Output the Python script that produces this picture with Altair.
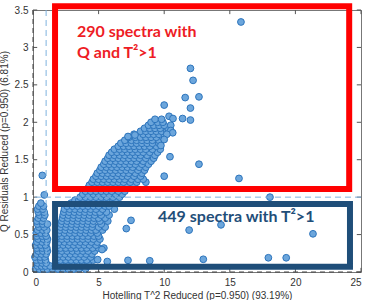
import altair as alt
import pandas as pd

x_ticks = [0, 5, 10, 15, 20, 25]
y_ticks = [0, 0.5, 1, 1.5, 2, 2.5, 3, 3.5]

# dense cloud, read row by row (Q value, list of T^2 values)
cloud_rows = [
    (0.04, [0.2, 0.5, 0.8, 1.1, 1.5, 1.9, 2.3, 2.7, 3.1, 3.5, 4.0]),
    (0.08, [0.35, 0.65, 0.95, 1.3, 1.7, 2.1, 2.5, 2.9, 3.3, 3.7, 4.2]),
    (0.12, [0.35, 0.7, 1.0, 1.8, 2.2, 2.6, 3.0, 3.4, 3.8, 4.2]),
    (0.16, [0.25, 0.6, 0.95, 1.75, 2.1, 2.5, 2.9, 3.3, 3.7, 4.1, 4.6]),
    (0.20, [0.15, 0.55, 0.9, 1.9, 2.3, 2.7, 3.1, 3.5, 3.9, 4.4]),
    (0.24, [0.3, 0.65, 1.0, 1.85, 2.05, 2.45, 2.85, 3.25, 3.65, 4.05, 4.5]),
    (0.28, [0.4, 0.75, 1.1, 1.8, 2.2, 2.6, 3.0, 3.4, 3.8, 4.2, 4.7]),
    (0.32, [0.3, 0.7, 1.05, 1.75, 2.1, 2.5, 2.9, 3.3, 3.7, 4.1, 4.55, 5.0]),
    (0.36, [0.2, 0.6, 0.95, 1.9, 2.3, 2.7, 3.1, 3.5, 3.9, 4.3, 4.8]),
    (0.40, [0.3, 0.7, 1.05, 2.0, 2.4, 2.8, 3.2, 3.6, 4.0, 4.45, 4.9]),
    (0.44, [0.4, 0.8, 1.1, 1.8, 2.2, 2.6, 3.0, 3.4, 3.8, 4.2, 4.6, 5.1]),
    (0.48, [0.3, 0.7, 1.0, 1.9, 2.2, 2.6, 3.0, 3.4, 3.8, 4.2, 4.65, 5.0]),
    (0.52, [0.25, 0.6, 0.95, 2.0, 2.4, 2.8, 3.2, 3.6, 4.0, 4.4, 4.9]),
    (0.56, [0.35, 0.75, 1.05, 2.05, 2.45, 2.85, 3.25, 3.65, 4.05, 4.45, 4.8, 5.3]),
    (0.60, [0.45, 0.85, 2.1, 2.5, 2.9, 3.3, 3.7, 4.1, 4.5, 5.0, 5.5]),
    (0.64, [0.35, 0.75, 1.1, 2.15, 2.55, 2.95, 3.35, 3.75, 4.15, 4.55, 5.2]),
    (0.68, [0.3, 0.7, 2.2, 2.6, 3.0, 3.4, 3.8, 4.2, 4.6, 5.1, 5.7]),
    (0.72, [0.4, 0.8, 2.25, 2.65, 3.05, 3.45, 3.85, 4.25, 4.65, 5.0, 5.5]),
    (0.76, [0.5, 0.9, 2.3, 2.7, 3.1, 3.5, 3.9, 4.3, 4.7, 5.2, 5.8]),
    (0.80, [0.4, 0.85, 2.35, 2.75, 3.15, 3.55, 3.95, 4.35, 4.75, 5.1, 5.6]),
    (0.84, [0.35, 0.75, 2.4, 2.8, 3.2, 3.6, 4.0, 4.4, 4.8, 5.3, 6.2]),
    (0.88, [0.45, 0.8, 2.6, 3.0, 3.4, 3.8, 4.2, 4.6, 5.0, 5.5, 5.8]),
    (0.92, [0.6, 2.9, 3.3, 3.7, 4.1, 4.5, 4.9, 5.4, 5.9]),
    (0.96, [3.2, 3.5, 3.9, 4.3, 4.7, 5.1, 5.6, 6.3]),
    (1.00, [3.6, 4.0, 4.4, 4.8, 5.2, 5.6, 6.1, 6.6]),
    (1.04, [3.8, 4.2, 4.6, 5.0, 5.4, 5.8, 6.3, 6.8]),
    (1.08, [4.0, 4.4, 4.8, 5.2, 5.6, 6.0, 6.5, 7.0]),
    (1.12, [4.2, 4.6, 5.0, 5.4, 5.8, 6.2, 6.8, 7.4]),
    (1.16, [4.3, 4.7, 5.1, 5.5, 5.9, 6.3, 6.7, 7.2, 7.7]),
    (1.20, [4.5, 4.9, 5.3, 5.7, 6.1, 6.5, 6.9, 7.4, 7.9, 8.6]),
    (1.24, [4.6, 5.0, 5.4, 5.8, 6.2, 6.6, 7.0, 7.5, 8.0, 8.4]),
    (1.28, [4.8, 5.2, 5.6, 6.0, 6.4, 6.8, 7.2, 7.7, 8.2]),
    (1.32, [4.9, 5.3, 5.7, 6.1, 6.5, 6.9, 7.3, 7.8, 8.3]),
    (1.36, [5.1, 5.5, 5.9, 6.3, 6.7, 7.1, 7.5, 8.0, 8.5]),
    (1.40, [5.2, 5.6, 6.0, 6.4, 6.8, 7.2, 7.6, 8.1, 8.6]),
    (1.44, [5.4, 5.8, 6.2, 6.6, 7.0, 7.4, 7.8, 8.3, 8.8]),
    (1.48, [5.5, 5.9, 6.3, 6.7, 7.1, 7.5, 7.9, 8.4, 9.0]),
    (1.52, [5.7, 6.1, 6.5, 6.9, 7.3, 7.7, 8.1, 8.6, 9.2]),
    (1.56, [5.8, 6.2, 6.6, 7.0, 7.4, 7.8, 8.2, 8.7, 9.3]),
    (1.60, [6.0, 6.4, 6.8, 7.2, 7.6, 8.0, 8.4, 8.9, 9.5]),
    (1.64, [6.2, 6.6, 7.0, 7.4, 7.8, 8.2, 8.6, 9.1, 9.7]),
    (1.68, [6.5, 6.9, 7.3, 7.7, 8.1, 8.5, 8.9, 9.4]),
    (1.72, [6.7, 7.1, 7.5, 7.9, 8.3, 8.7, 9.1, 9.6]),
    (1.76, [7.0, 7.5, 7.9, 8.3, 8.7, 9.1, 9.6]),
    (1.80, [7.3, 7.8, 8.2, 8.6, 9.0, 9.4, 9.9]),
    (1.84, [7.7, 8.4, 8.8, 9.2, 9.6, 10.0]),
    (1.88, [8.2, 8.6, 9.0, 9.4, 9.8, 10.2]),
    (1.92, [8.5, 8.9, 9.3, 9.7, 10.3]),
    (1.96, [8.8, 9.2, 9.6, 10.0, 10.5]),
    (2.00, [9.0, 9.5, 9.9]),
    (2.04, [9.3, 9.8]),
]

outlier_x = [15.85, 12.0, 12.2, 11.6, 12.65, 12.0, 10.0, 10.37, 10.67, 11.4, 12.0,
             10.5, 10.65, 10.2, 10.0, 9.75, 10.44, 12.65, 10.0, 15.7, 18.06,
             11.9, 14.33, 21.34, 8.9, 12.98, 17.94, 19.3, 7.24, 5.66, 4.93,
             7.11, 7.47, 5.4, 5.26, 7.24, 7.77, 0.71, 0.86]
outlier_y = [3.34, 2.72, 2.56, 2.33, 2.34, 2.19, 2.23, 2.08, 2.05, 2.05, 2.03,
             1.89, 1.86, 1.84, 1.77, 1.69, 1.54, 1.44, 1.28, 1.25, 1.0,
             0.56, 0.63, 0.51, 0.15, 0.17, 0.19, 0.19, 0.156, 0.14, 0.165,
             0.58, 0.69, 0.32, 0.30, 1.81, 1.83, 1.29, 1.03]

q_limit = 1.0
t2_limit = 1.0

red_box = {"x": 1.68, "x2": 24.1, "y": 1.11, "y2": 3.55}
blue_box = {"x": 1.68, "x2": 24.16, "y": 0.07, "y2": 0.91}

red_lines = ["290 spectra with", "Q and T²>1"]
red_text_x = [3.35, 3.35]
red_text_y = [3.2, 2.92]
blue_line = "449 spectra with T²>1"
blue_text_x = 9.53
blue_text_y = 0.73

rows = []
for yv, xs_ in cloud_rows:
    for xv in xs_:
        rows.append({"x": xv, "y": yv})
for xv, yv in zip(outlier_x, outlier_y):
    rows.append({"x": xv, "y": yv})
pts = pd.DataFrame(rows)

xs = alt.Scale(domain=[0, 25], nice=False, zero=False)
ys = alt.Scale(domain=[0, 3.5], nice=False, zero=False)
x_axis = alt.Axis(values=x_ticks, title="Hotelling T^2 Reduced (p=0.950) (93.19%)",
                  grid=False, domain=False, ticks=False, labelPadding=5, titlePadding=3)
y_axis = alt.Axis(values=y_ticks, format="~g", title="Q Residuals Reduced (p=0.950) (6.81%)",
                  grid=False, domain=False, ticks=False, labelPadding=5, titlePadding=5)


def X(f):
    return alt.X(f, scale=xs, axis=x_axis)


def Y(f):
    return alt.Y(f, scale=ys, axis=y_axis)


points = alt.Chart(pts).mark_point(
    filled=True, fill="#6CA6DC", stroke="#2C74BC", strokeWidth=1, size=46, opacity=1, fillOpacity=1
).encode(x=X("x:Q"), y=Y("y:Q"))

# inward tick marks (MATLAB style)
tick_rows = []
for t in x_ticks:
    tick_rows.append({"x": t, "x2": t, "y": 0, "y2": 0.055})
    tick_rows.append({"x": t, "x2": t, "y": 3.5, "y2": 3.445})
for t in y_ticks:
    tick_rows.append({"x": 0, "x2": 0.32, "y": t, "y2": t})
    tick_rows.append({"x": 25, "x2": 24.68, "y": t, "y2": t})
ticks = alt.Chart(pd.DataFrame(tick_rows)).mark_rule(color="#555", strokeWidth=1).encode(
    x=X("x:Q"), x2="x2:Q", y=Y("y:Q"), y2="y2:Q",
)

hline = alt.Chart(pd.DataFrame({"y": [q_limit]})).mark_rule(
    color="#7FB2DE", strokeDash=[6, 4], strokeWidth=1
).encode(y=Y("y:Q"))
vline = alt.Chart(pd.DataFrame({"x": [t2_limit]})).mark_rule(
    color="#7FB2DE", strokeDash=[6, 4], strokeWidth=1
).encode(x=X("x:Q"))

zero_h = alt.Chart(pd.DataFrame({"y": [0]})).mark_rule(
    color="#444", strokeDash=[5, 4], strokeWidth=1
).encode(y=Y("y:Q"))
zero_v = alt.Chart(pd.DataFrame({"x": [0]})).mark_rule(
    color="#444", strokeDash=[5, 4], strokeWidth=1
).encode(x=X("x:Q"))


def box(b, color):
    return alt.Chart(pd.DataFrame([b])).mark_rect(
        fillOpacity=0, stroke=color, strokeWidth=6
    ).encode(x=X("x:Q"), x2="x2:Q", y=Y("y:Q"), y2="y2:Q")


red_rect = box(red_box, "#FF0000")
blue_rect = box(blue_box, "#1F4E79")

red_txt = alt.Chart(pd.DataFrame({"x": red_text_x, "y": red_text_y, "t": red_lines})).mark_text(
    align="left", baseline="middle", font="Lato", fontWeight="bold", fontSize=16, color="#EE1C25"
).encode(x=X("x:Q"), y=Y("y:Q"), text="t:N")

blue_txt = alt.Chart(pd.DataFrame({"x": [blue_text_x], "y": [blue_text_y], "t": [blue_line]})).mark_text(
    align="left", baseline="middle", font="Lato", fontWeight="bold", fontSize=16, color="#1F4E79"
).encode(x=X("x:Q"), y=Y("y:Q"), text="t:N")

chart = alt.layer(
    points, ticks, zero_h, zero_v, hline, vline, red_rect, blue_rect, red_txt, blue_txt
).properties(
    width=328, height=262,
    autosize=alt.AutoSizeParams(type="none"),
    padding={"left": 33, "top": 10, "right": 7, "bottom": 28},
).configure_view(
    stroke="#777", strokeWidth=1
).configure_axis(
    labelFont="Liberation Sans", labelFontSize=10, labelColor="#333",
    titleFont="Liberation Sans", titleFontSize=10, titleFontWeight="normal", titleColor="#333",
)

chart.save("out.html", embed_options={"renderer": "svg", "actions": False})
